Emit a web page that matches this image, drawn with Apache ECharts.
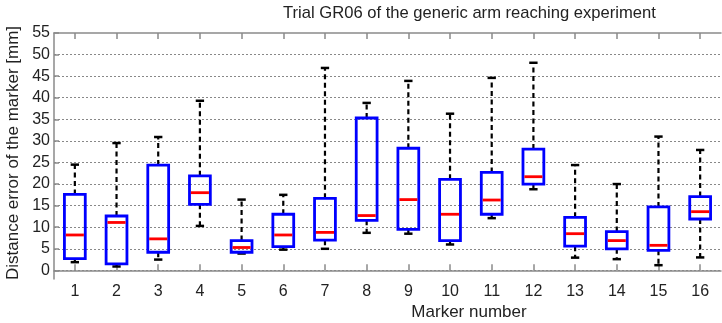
<!DOCTYPE html>
<html>
<head>
<meta charset="utf-8">
<script src="https://cdn.jsdelivr.net/npm/echarts@6/dist/echarts.min.js"></script>
<style>
html,body{margin:0;padding:0;background:#fff;}
#c{width:722px;height:323px;}
</style>
</head>
<body>
<div id="c"></div>
<script>
var categories = ['1','2','3','4','5','6','7','8','9','10','11','12','13','14','15','16'];
var whiskerLow = [1.9, 0.9, 2.5, 10.3, 3.9, 4.8, 5.0, 8.7, 8.5, 6.0, 12.1, 18.8, 2.95, 2.6, 1.2, 3.0];
var q1 =         [2.7, 1.5, 4.2, 15.3, 4.2, 5.5, 7.0, 11.6, 9.5, 6.9, 13.0, 20.0, 5.6, 5.0, 4.65, 11.9];
var median =     [8.2, 11.1, 7.3, 18.0, 5.3, 8.2, 8.8, 12.7, 16.4, 13.0, 16.3, 21.7, 8.5, 6.9, 5.8, 13.6];
var q3 =         [17.6, 12.6, 24.4, 21.9, 6.9, 13.0, 16.7, 35.3, 28.3, 21.1, 22.7, 28.1, 12.3, 9.0, 14.7, 17.1];
var whiskerHigh =[24.5, 29.5, 30.9, 39.3, 16.4, 17.5, 46.9, 38.8, 43.9, 36.3, 44.6, 48.1, 24.4, 20.0, 31.0, 27.9];
var yTicks = [0,5,10,15,20,25,30,35,40,45,50,55];
var gridValues = [0,5,10,15,20,25,30,35,40,45,50];

var data = categories.map(function(c, i){
  return [i, whiskerLow[i], q1[i], median[i], q3[i], whiskerHigh[i]];
});

var chart = echarts.init(document.getElementById('c'), null, {renderer:'canvas'});
var FONT = 'Liberation Sans, Arial, sans-serif';
var AX = '#8a8a8a';

function renderItem(params, api){
  var x = api.value(0);
  var band = api.size([1,0])[0];
  var pLow = api.coord([x, api.value(1)]);
  var pQ1 = api.coord([x, api.value(2)]);
  var pMed = api.coord([x, api.value(3)]);
  var pQ3 = api.coord([x, api.value(4)]);
  var pHigh = api.coord([x, api.value(5)]);
  var cx = pMed[0];
  var bw = band * 0.5;
  var cw = band * 0.2;
  var dash = {stroke:'#000', lineWidth:2.2, lineDash:[5,3.5]};
  var solid = {stroke:'#000', lineWidth:2.5};
  return {
    type:'group',
    children:[
      {type:'line', shape:{x1:cx,y1:pQ3[1],x2:cx,y2:pHigh[1]}, style:dash},
      {type:'line', shape:{x1:cx,y1:pQ1[1],x2:cx,y2:pLow[1]}, style:dash},
      {type:'line', shape:{x1:cx-cw/2,y1:pHigh[1],x2:cx+cw/2,y2:pHigh[1]}, style:solid},
      {type:'line', shape:{x1:cx-cw/2,y1:pLow[1],x2:cx+cw/2,y2:pLow[1]}, style:solid},
      {type:'rect', shape:{x:cx-bw/2,y:pQ3[1],width:bw,height:pQ1[1]-pQ3[1]}, style:{fill:'none', stroke:'#0000ff', lineWidth:2.8}},
      {type:'line', shape:{x1:cx-bw/2+1.4,y1:pMed[1],x2:cx+bw/2-1.4,y2:pMed[1]}, style:{stroke:'#ff0000', lineWidth:2.8}}
    ]
  };
}

chart.setOption({
  animation:false,
  backgroundColor:'#fff',
  grid:{left:54, right:1, top:33, bottom:44},
  xAxis:[{
    type:'category', data:categories, position:'bottom', boundaryGap:true,
    axisLine:{show:true, lineStyle:{color:AX, width:1.5}},
    axisTick:{show:true, inside:true, alignWithLabel:true, length:6, lineStyle:{color:AX, width:1.5}},
    axisLabel:{fontFamily:FONT, fontSize:16, color:'#222', margin:5},
    splitLine:{show:false}
  },{
    type:'category', data:categories, position:'top', boundaryGap:true,
    axisLine:{show:true, onZero:false, lineStyle:{color:AX, width:1.5}},
    axisTick:{show:true, inside:true, alignWithLabel:true, length:6, lineStyle:{color:AX, width:1.5}},
    axisLabel:{show:false},
    splitLine:{show:false}
  }],
  yAxis:[{
    type:'value', min:-2, max:55,
    axisLine:{show:true, lineStyle:{color:AX, width:1.5}},
    axisTick:{show:true, inside:true, length:5, customValues:yTicks, lineStyle:{color:AX, width:1.5}},
    axisLabel:{fontFamily:FONT, fontSize:16, color:'#222', margin:4, customValues:yTicks},
    splitLine:{show:false}
  }],
  graphic:[
    {type:'text', left:283, top:5, style:{text:'Trial GR06 of the generic arm reaching experiment', font:'16.6px Liberation Sans, Arial, sans-serif', fill:'#222'}},
    {type:'text', x:469, y:312, style:{text:'Marker number', font:'17px Liberation Sans, Arial, sans-serif', fill:'#222', align:'center', verticalAlign:'middle'}},
    {type:'text', x:13, y:153, rotation:Math.PI/2, style:{text:'Distance error of the marker [mm]', font:'17px Liberation Sans, Arial, sans-serif', fill:'#222', align:'center', verticalAlign:'middle'}}
  ],
  series:[{
    type:'line', data:[], silent:true,
    markLine:{
      silent:true, symbol:'none', animation:false,
      label:{show:false},
      lineStyle:{color:'#888', type:[2,2], width:1},
      data:gridValues.map(function(v){return {yAxis:v};})
    }
  },{
    type:'custom', renderItem:renderItem, data:data,
    encode:{x:0, y:[1,2,3,4,5]}, z:5
  }]
});
</script>
</body>
</html>
